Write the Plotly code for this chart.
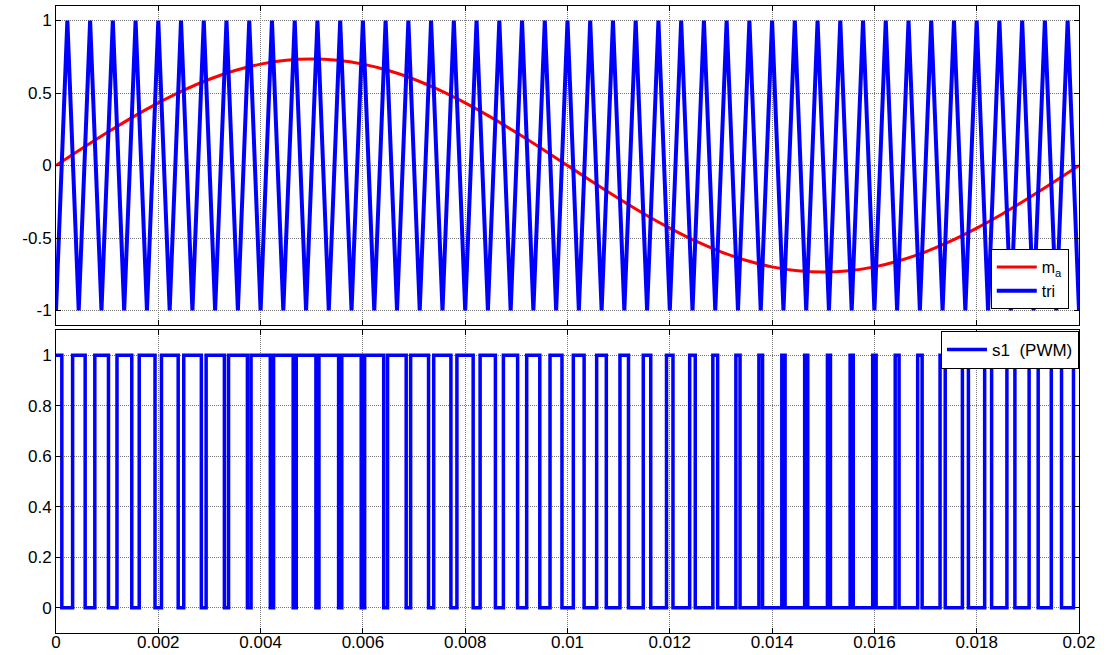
import numpy as np
import plotly.graph_objects as go

# ---- data ----
# carrier (triangle) vertices: time [s], value
tri_t = [0, 0.000222, 0.000444, 0.000667, 0.000889, 0.001111, 0.001333, 0.001556, 0.001778, 0.002,
         0.002222, 0.002444, 0.002667, 0.002889, 0.003111, 0.003333, 0.003556, 0.003778, 0.004,
         0.004222, 0.004444, 0.004667, 0.004889, 0.005111, 0.005333, 0.005556, 0.005778, 0.006,
         0.006222, 0.006444, 0.006667, 0.006889, 0.007111, 0.007333, 0.007556, 0.007778, 0.008,
         0.008222, 0.008444, 0.008667, 0.008889, 0.009111, 0.009333, 0.009556, 0.009778, 0.01,
         0.010222, 0.010444, 0.010667, 0.010889, 0.011111, 0.011333, 0.011556, 0.011778, 0.012,
         0.012222, 0.012444, 0.012667, 0.012889, 0.013111, 0.013333, 0.013556, 0.013778, 0.014,
         0.014222, 0.014444, 0.014667, 0.014889, 0.015111, 0.015333, 0.015556, 0.015778, 0.016,
         0.016222, 0.016444, 0.016667, 0.016889, 0.017111, 0.017333, 0.017556, 0.017778, 0.018,
         0.018222, 0.018444, 0.018667, 0.018889, 0.019111, 0.019333, 0.019556, 0.019778, 0.02]
tri_v = [-1, 1, -1, 1, -1, 1, -1, 1, -1, 1,
         -1, 1, -1, 1, -1, 1, -1, 1, -1,
         1, -1, 1, -1, 1, -1, 1, -1, 1,
         -1, 1, -1, 1, -1, 1, -1, 1, -1,
         1, -1, 1, -1, 1, -1, 1, -1, 1,
         -1, 1, -1, 1, -1, 1, -1, 1, -1,
         1, -1, 1, -1, 1, -1, 1, -1, 1,
         -1, 1, -1, 1, -1, 1, -1, 1, -1,
         1, -1, 1, -1, 1, -1, 1, -1, 1,
         -1, 1, -1, 1, -1, 1, -1, 1, -1]

# modulating signal m_a samples
ma_t = [0, 0.0005, 0.001, 0.0015, 0.002, 0.0025, 0.003, 0.0035, 0.004, 0.0045,
        0.005, 0.0055, 0.006, 0.0065, 0.007, 0.0075, 0.008, 0.0085, 0.009, 0.0095,
        0.01, 0.0105, 0.011, 0.0115, 0.012, 0.0125, 0.013, 0.0135, 0.014, 0.0145,
        0.015, 0.0155, 0.016, 0.0165, 0.017, 0.0175, 0.018, 0.0185, 0.019, 0.0195, 0.02]
ma_v = [0, 0.115, 0.227, 0.334, 0.432, 0.520, 0.595, 0.655, 0.699, 0.726,
        0.735, 0.726, 0.699, 0.655, 0.595, 0.520, 0.432, 0.334, 0.227, 0.115,
        0, -0.115, -0.227, -0.334, -0.432, -0.520, -0.595, -0.655, -0.699, -0.726,
        -0.735, -0.726, -0.699, -0.655, -0.595, -0.520, -0.432, -0.334, -0.227, -0.115, 0]

x_ticks = [0, 0.002, 0.004, 0.006, 0.008, 0.01, 0.012, 0.014, 0.016, 0.018, 0.02]
x_tick_labels = ["0", "0.002", "0.004", "0.006", "0.008", "0.01", "0.012", "0.014", "0.016", "0.018", "0.02"]
y1_ticks = [-1, -0.5, 0, 0.5, 1]
y1_tick_labels = ["-1", "-0.5", "0", "0.5", "1"]
y2_ticks = [0, 0.2, 0.4, 0.6, 0.8, 1]
y2_tick_labels = ["0", "0.2", "0.4", "0.6", "0.8", "1"]

# ---- PWM: s1 = 1 where m_a > tri (comparison of the two series above) ----
grid = np.linspace(0, 0.02, 200001)
tri_g = np.interp(grid, tri_t, tri_v)
ma_g = np.interp(grid, ma_t, ma_v)
s = (ma_g > tri_g).astype(int)
chg = np.nonzero(np.diff(s))[0] + 1
pwm_x = [float(grid[0])] + [float(grid[i]) for i in chg] + [float(grid[-1])]
pwm_y = [int(s[0])] + [int(s[i]) for i in chg] + [int(s[-1])]

FONT = "Arial, Liberation Sans, sans-serif"
fig = go.Figure()
fig.add_trace(go.Scatter(x=ma_t, y=ma_v, mode="lines", name="m<sub>a</sub>",
                         line=dict(color="#ff0000", width=3, shape="spline"),
                         xaxis="x", yaxis="y", legend="legend"))
fig.add_trace(go.Scatter(x=tri_t, y=tri_v, mode="lines", name="tri",
                         line=dict(color="#0000ff", width=4),
                         xaxis="x", yaxis="y", legend="legend"))
fig.add_trace(go.Scatter(x=pwm_x, y=pwm_y, mode="lines", name="s1  (PWM)",
                         line=dict(color="#0000ff", width=3.5, shape="hv"),
                         xaxis="x2", yaxis="y2", legend="legend2"))

axis_common = dict(showline=True, linecolor="black", linewidth=1, mirror="ticks",
                   ticks="inside", ticklen=5, tickcolor="black", automargin=False,
                   showgrid=True, gridcolor="rgb(120,120,120)", gridwidth=1, griddash="1px,1px",
                   zeroline=False, tickfont=dict(family=FONT, size=17, color="black"))

fig.update_layout(
    width=1107, height=655,
    margin=dict(l=56, r=28, t=6, b=22),
    paper_bgcolor="white", plot_bgcolor="white",
    font=dict(family=FONT, size=17, color="black"),
    xaxis=dict(domain=[0, 1], anchor="y", range=[0, 0.02], tickvals=x_ticks,
               showticklabels=False, **axis_common),
    yaxis=dict(domain=[0.4912, 1], anchor="x", range=[-1.1, 1.1], tickvals=y1_ticks,
               ticktext=y1_tick_labels, **axis_common),
    xaxis2=dict(domain=[0, 1], anchor="y2", range=[0, 0.02], tickvals=x_ticks,
                ticktext=x_tick_labels, ticklabelstandoff=-6, **axis_common),
    yaxis2=dict(domain=[0, 0.4833], anchor="x2", range=[-0.1, 1.1], tickvals=y2_ticks,
                ticktext=y2_tick_labels, **axis_common),
    legend=dict(x=0.99, xanchor="right", y=0.5167, yanchor="bottom",
                bgcolor="white", bordercolor="black", borderwidth=1,
                font=dict(family=FONT, size=16), itemwidth=40, tracegroupgap=0),
    legend2=dict(x=1.0, xanchor="right", y=0.4817, yanchor="top",
                 bgcolor="white", bordercolor="black", borderwidth=1,
                 font=dict(family=FONT, size=17), itemwidth=40),
    showlegend=True,
)

fig.write_html("out.html")
